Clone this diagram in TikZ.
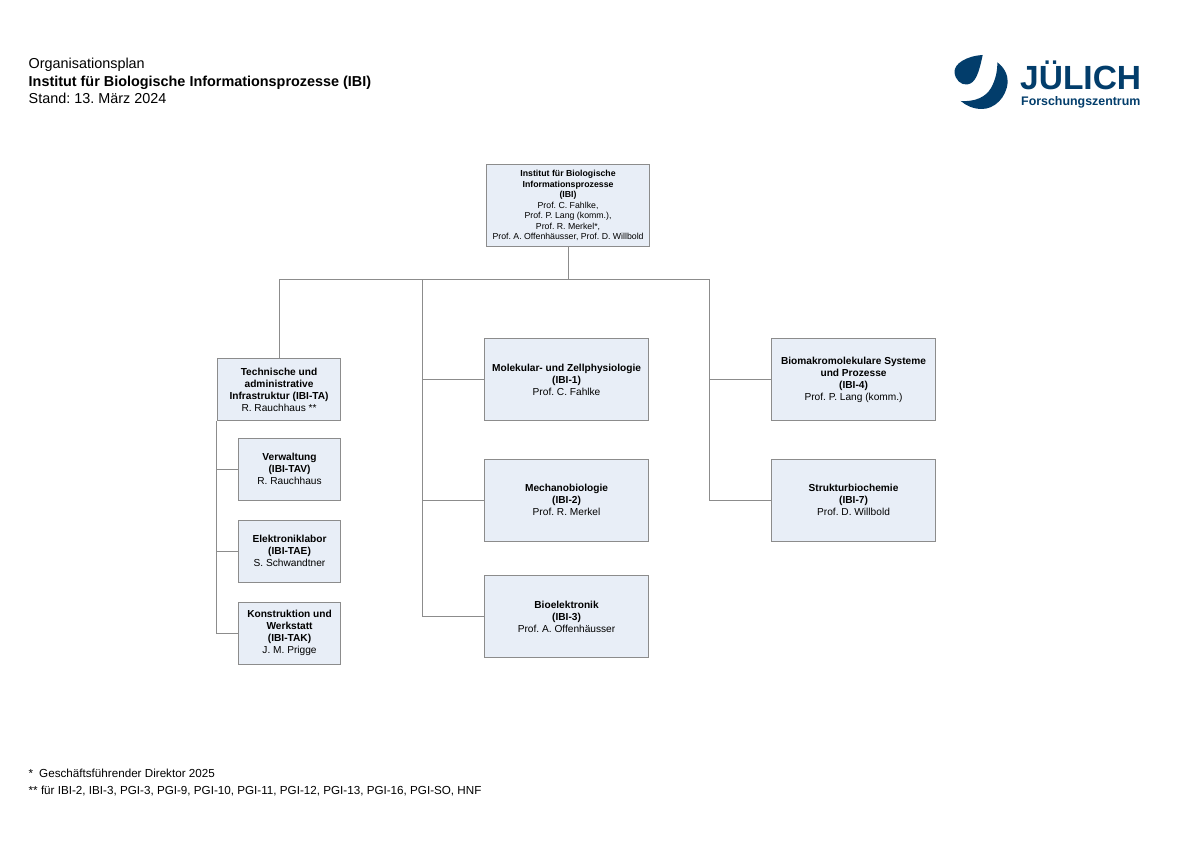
\documentclass[tikz,border=0pt]{standalone}
\usepackage{fontspec}
\setmainfont{Liberation Sans}
\newfontfamily\logofont{Liberation Sans}
\definecolor{boxfill}{HTML}{E8EEF7}
\definecolor{boxline}{HTML}{8C8C8C}
\definecolor{julich}{HTML}{023D6B}
\tikzset{
  orgbox/.style={draw=boxline,fill=boxfill,line width=1.1pt,align=center,inner sep=0pt,anchor=north west,font=\frenchspacing\fontsize{10.15}{12}\selectfont},
  topbox/.style={orgbox,font=\frenchspacing\fontsize{8.75}{10.5}\selectfont},
  conn/.style={draw=boxline,line width=1.1pt},
  plain/.style={anchor=mid west,inner sep=0pt,text=black},
  headtext/.style={plain,font=\frenchspacing\fontsize{14.4}{17}\selectfont},
  foottext/.style={plain,font=\frenchspacing\fontsize{11.66}{14}\selectfont},
  logopart/.style={fill=julich,draw=none},
  logotext/.style={inner sep=0pt,anchor=base west,text=julich}
}
\begin{document}
\begin{tikzpicture}[x=1pt,y=-1pt]
\useasboundingbox (0,0) rectangle (1200,861);
\fill[white] (0,0) rectangle (1200,861);
% heading
\node[headtext] (h1) at (28.5,66) {Organisationsplan};
\node[headtext] (h2) at (28.5,83.5) {\textbf{Institut für Biologische Informationsprozesse (IBI)}};
\node[headtext] (h3) at (28.5,101) {Stand: 13. März 2024};
% logo
\fill[logopart] (982.7,55) .. controls (966,56) and (954,64) .. (954.5,72) .. controls (955,80) and (961,85) .. (967,84.5) .. controls (976,83.5) and (979,72) .. (982.7,55) -- cycle;
\fill[logopart] (997.3,62.3) .. controls (1004,67) and (1008,75) .. (1007.7,82) .. controls (1006.5,98) and (994,109) .. (982,109) .. controls (973,109) and (966,105.5) .. (960.7,101) .. controls (975,102) and (986,97) .. (991,88) .. controls (995.5,80) and (997.5,71) .. (997.3,62.3) -- cycle;
\node[logotext] (logo1) at (1020,89.3) {\logofont\fontsize{33.5}{34}\selectfont\textbf{JÜLICH}};
\node[logotext] (logo2) at (1021,105.5) {\logofont\fontsize{12.4}{13}\selectfont\textbf{Forschungszentrum}};
% boxes
\node[topbox,minimum width=163.6pt,minimum height=82pt] (ibi) at (485.7,164) {\textbf{Institut für Biologische}\\\textbf{Informationsprozesse}\\\textbf{(IBI)}\\Prof. C. Fahlke,\\Prof. P. Lang (komm.),\\Prof. R. Merkel*,\\Prof. A. Offenhäusser, Prof. D. Willbold};
\node[orgbox,minimum width=123.4pt,minimum height=62pt] (ta) at (216.8,358) {\textbf{Technische und}\\\textbf{administrative}\\\textbf{Infrastruktur (IBI-TA)}\\R. Rauchhaus **};
\node[orgbox,minimum width=102.4pt,minimum height=61.6pt] (tav) at (237.8,438) {\textbf{Verwaltung}\\\textbf{(IBI-TAV)}\\R. Rauchhaus};
\node[orgbox,minimum width=102.4pt,minimum height=61.6pt] (tae) at (237.8,520) {\textbf{Elektroniklabor}\\\textbf{(IBI-TAE)}\\S. Schwandtner};
\node[orgbox,minimum width=102.4pt,minimum height=61.6pt] (tak) at (237.8,602) {\textbf{Konstruktion und}\\\textbf{Werkstatt}\\\textbf{(IBI-TAK)}\\J. M. Prigge};
\node[orgbox,minimum width=164pt,minimum height=82pt] (ibia) at (484,338) {\textbf{Molekular- und Zellphysiologie}\\\textbf{(IBI-1)}\\Prof. C. Fahlke};
\node[orgbox,minimum width=164pt,minimum height=82pt] (ibib) at (484,458.7) {\textbf{Mechanobiologie}\\\textbf{(IBI-2)}\\Prof. R. Merkel};
\node[orgbox,minimum width=164pt,minimum height=82pt] (ibic) at (484,575) {\textbf{Bioelektronik}\\\textbf{(IBI-3)}\\Prof. A. Offenhäusser};
\node[orgbox,minimum width=164pt,minimum height=82pt] (ibid) at (771,338) {\textbf{Biomakromolekulare Systeme}\\\textbf{und Prozesse}\\\textbf{(IBI-4)}\\Prof. P. Lang (komm.)};
\node[orgbox,minimum width=164pt,minimum height=82pt] (ibig) at (771,458.7) {\textbf{Strukturbiochemie}\\\textbf{(IBI-7)}\\Prof. D. Willbold};
% connectors
\coordinate (bus) at (ibi.south |- 0,279.5);
\coordinate (busa) at (ta.north |- bus);
\coordinate (busb) at (422.3,279.5);
\coordinate (busc) at (709.8,279.5);
\coordinate (tarail) at (ta.south west);
\coordinate (tarailend) at (ta.west |- tak.west);
\draw[conn] (ibi.south) -- (bus);
\draw[conn] (ta.north) -- (busa) -- (busc);
\draw[conn] (busb) |- (ibic.west);
\draw[conn] (busb |- ibia.west) -- (ibia.west);
\draw[conn] (busb |- ibib.west) -- (ibib.west);
\draw[conn] (busc) |- (ibig.west);
\draw[conn] (busc |- ibid.west) -- (ibid.west);
\draw[conn] (tarail) -- (tarailend) -- (tak.west);
\draw[conn] (tarail |- tav.west) -- (tav.west);
\draw[conn] (tarail |- tae.west) -- (tae.west);
% footnotes
\node[foottext] (f1) at (28.5,775) {*\hspace{6pt}Geschäftsführender Direktor 2025};
\node[foottext] (f2) at (28.5,792) {** für IBI-2, IBI-3, PGI-3, PGI-9, PGI-10, PGI-11, PGI-12, PGI-13, PGI-16, PGI-SO, HNF};
\end{tikzpicture}
\end{document}
